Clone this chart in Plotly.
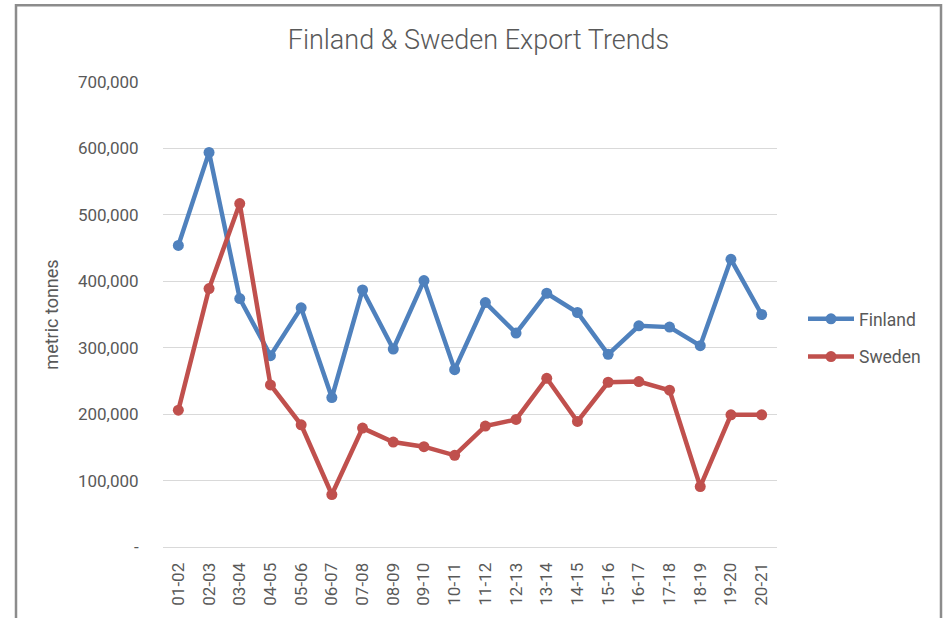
import plotly.graph_objects as go

seasons = ["01-02", "02-03", "03-04", "04-05", "05-06", "06-07", "07-08", "08-09", "09-10", "10-11",
           "11-12", "12-13", "13-14", "14-15", "15-16", "16-17", "17-18", "18-19", "19-20", "20-21"]
finland = [454000, 594000, 374000, 288000, 360000, 225000, 387000, 298000, 401000, 267000,
           368000, 322000, 382000, 353000, 290000, 333000, 331000, 303000, 433000, 350000]
sweden = [206000, 389000, 517000, 244000, 184000, 79000, 179000, 158000, 151000, 138000,
          182000, 192000, 254000, 189000, 248000, 249000, 236000, 91000, 199000, 199000]
y_tickvals = [0, 100000, 200000, 300000, 400000, 500000, 600000, 700000]
y_ticktext = ["-", "100,000", "200,000", "300,000", "400,000", "500,000", "600,000", "700,000"]

FONT = "Roboto, Arial"
GREY = "#595959"

fig = go.Figure()
fig.add_trace(go.Scatter(x=seasons, y=finland, name="Finland", mode="lines+markers",
                         legendgroup="fin",
                         line=dict(color="#4F81BD", width=4.5),
                         marker=dict(size=11, color="#4F81BD")))
fig.add_trace(go.Scatter(x=seasons, y=sweden, name="Sweden", mode="lines+markers",
                         legendgroup="swe",
                         line=dict(color="#C0504D", width=4.5),
                         marker=dict(size=11, color="#C0504D")))

L, R, T, B = 163, 167, 82, 69
W, H = 944, 618
pw, ph = W - L - R, H - T - B

def px_x(v):
    return (v - L) / pw

def px_y(v):
    return (H - B - v) / ph

fig.update_layout(
    width=W, height=H,
    margin=dict(l=L, r=R, t=T, b=B),
    paper_bgcolor="white", plot_bgcolor="white",
    font=dict(family=FONT, color=GREY, size=17),
    title=dict(text="Finland & Sweden Export Trends", x=478.5 / W, xref="container", xanchor="center",
               y=1 - 40 / H, yref="container", yanchor="middle",
               font=dict(family=FONT, size=27, color=GREY, weight=300)),
    showlegend=True,
    legend=dict(x=px_x(803), y=px_y(339), xanchor="left", yanchor="middle",
                font=dict(family=FONT, size=17.5, color=GREY), traceorder="grouped",
                itemwidth=46,
                bgcolor="rgba(0,0,0,0)", tracegroupgap=12),
    xaxis=dict(type="category", tickangle=-90, showgrid=False, showline=True,
               linecolor="#D9D9D9", linewidth=1, ticks="outside", ticklen=8,
               tickcolor="rgba(0,0,0,0)",
               tickfont=dict(family=FONT, size=17, color=GREY), zeroline=False,
               range=[-0.5, 19.5]),
    yaxis=dict(range=[0, 700000], tickvals=y_tickvals, ticktext=y_ticktext,
               showgrid=True, gridcolor="#D9D9D9", gridwidth=1.3, zeroline=False,
               ticks="outside", ticklen=20, tickcolor="rgba(0,0,0,0)",
               tickfont=dict(family=FONT, size=17, color=GREY),
               title=dict(text="metric tonnes", font=dict(family=FONT, size=18, color=GREY), standoff=14)),
    shapes=[dict(type="rect", xref="paper", yref="paper",
                 x0=px_x(16), x1=px_x(941), y0=px_y(640), y1=px_y(5),
                 line=dict(color="#8C8C8C", width=2.5), fillcolor="rgba(0,0,0,0)", layer="below")],
)

fig.write_html("out.html", config={"displayModeBar": False},
               post_script="document.body.style.margin='0px';")
